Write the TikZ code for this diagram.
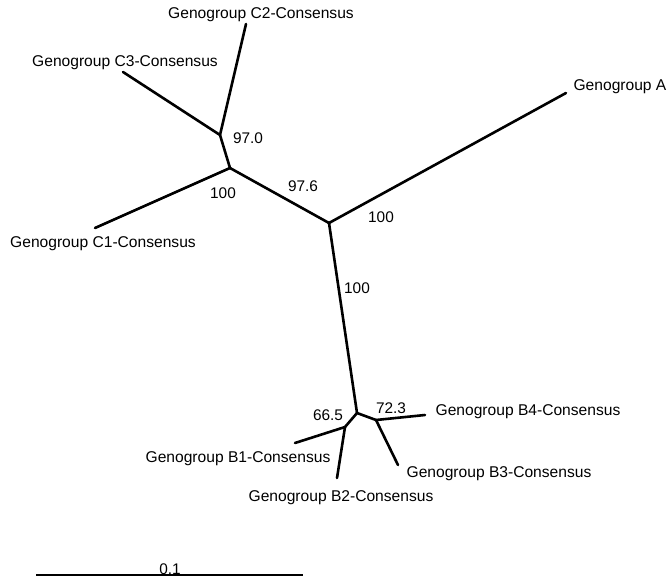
\documentclass[tikz,border=0pt]{standalone}
\usepackage{fontspec}
\setmainfont{Liberation Sans}
\tikzset{
  branch/.style={line width=2.6pt, line cap=round},
  taxon/.style={inner sep=0pt, font=\fontsize{15.6}{17}\selectfont},
  support/.style={inner sep=0pt, font=\fontsize{15.4}{17}\selectfont}
}
\begin{document}
\begin{tikzpicture}[x=1pt,y=-1pt]
  \useasboundingbox (0,0) rectangle (668,580);
  % internal nodes
  \coordinate (root) at (329,223);
  \coordinate (cjoin) at (230,168);
  \coordinate (c23) at (220,135);
  \coordinate (bjoin) at (357,413);
  \coordinate (b12) at (345,427);
  \coordinate (b34) at (376,420);
  % tips
  \coordinate (tipA) at (566,93);
  \coordinate (tipC1) at (95,228);
  \coordinate (tipC2) at (246,24);
  \coordinate (tipC3) at (123,72);
  \coordinate (tipB1) at (295,443);
  \coordinate (tipB2) at (337,478);
  \coordinate (tipB3) at (398,465);
  \coordinate (tipB4) at (425,415);
  % branches
  \draw[branch] (root) -- (tipA);
  \draw[branch] (root) -- (cjoin);
  \draw[branch] (cjoin) -- (tipC1);
  \draw[branch] (cjoin) -- (c23);
  \draw[branch] (c23) -- (tipC2);
  \draw[branch] (c23) -- (tipC3);
  \draw[branch] (root) -- (bjoin);
  \draw[branch] (bjoin) -- (b12);
  \draw[branch] (bjoin) -- (b34);
  \draw[branch] (b12) -- (tipB1);
  \draw[branch] (b12) -- (tipB2);
  \draw[branch] (b34) -- (tipB3);
  \draw[branch] (b34) -- (tipB4);
  % taxon labels
  \node[taxon] (labA) at (620,87) {Genogroup A};
  \node[taxon] (labC1) at (103,244) {Genogroup C1-Consensus};
  \node[taxon] (labC2) at (261,15) {Genogroup C2-Consensus};
  \node[taxon] (labC3) at (125,63) {Genogroup C3-Consensus};
  \node[taxon] (labB1) at (238,459) {Genogroup B1-Consensus};
  \node[taxon] (labB2) at (341,498) {Genogroup B2-Consensus};
  \node[taxon] (labB3) at (499,474) {Genogroup B3-Consensus};
  \node[taxon] (labB4) at (528,412) {Genogroup B4-Consensus};
  % bootstrap values
  \node[support] (s970) at (248,138) {97.0};
  \node[support] (s100c) at (223,193) {100};
  \node[support] (s976) at (303,186) {97.6};
  \node[support] (s100a) at (381,217) {100};
  \node[support] (s100b) at (357,288) {100};
  \node[support] (s665) at (328,415) {66.5};
  \node[support] (s723) at (391,408) {72.3};
  % scale bar
  \coordinate (barL) at (36,575);
  \coordinate (barR) at (303,575);
  \draw[line width=2.6pt] (barL) -- (barR);
  \node[support] (barlab) at (170,569) {0.1};
\end{tikzpicture}
\end{document}
